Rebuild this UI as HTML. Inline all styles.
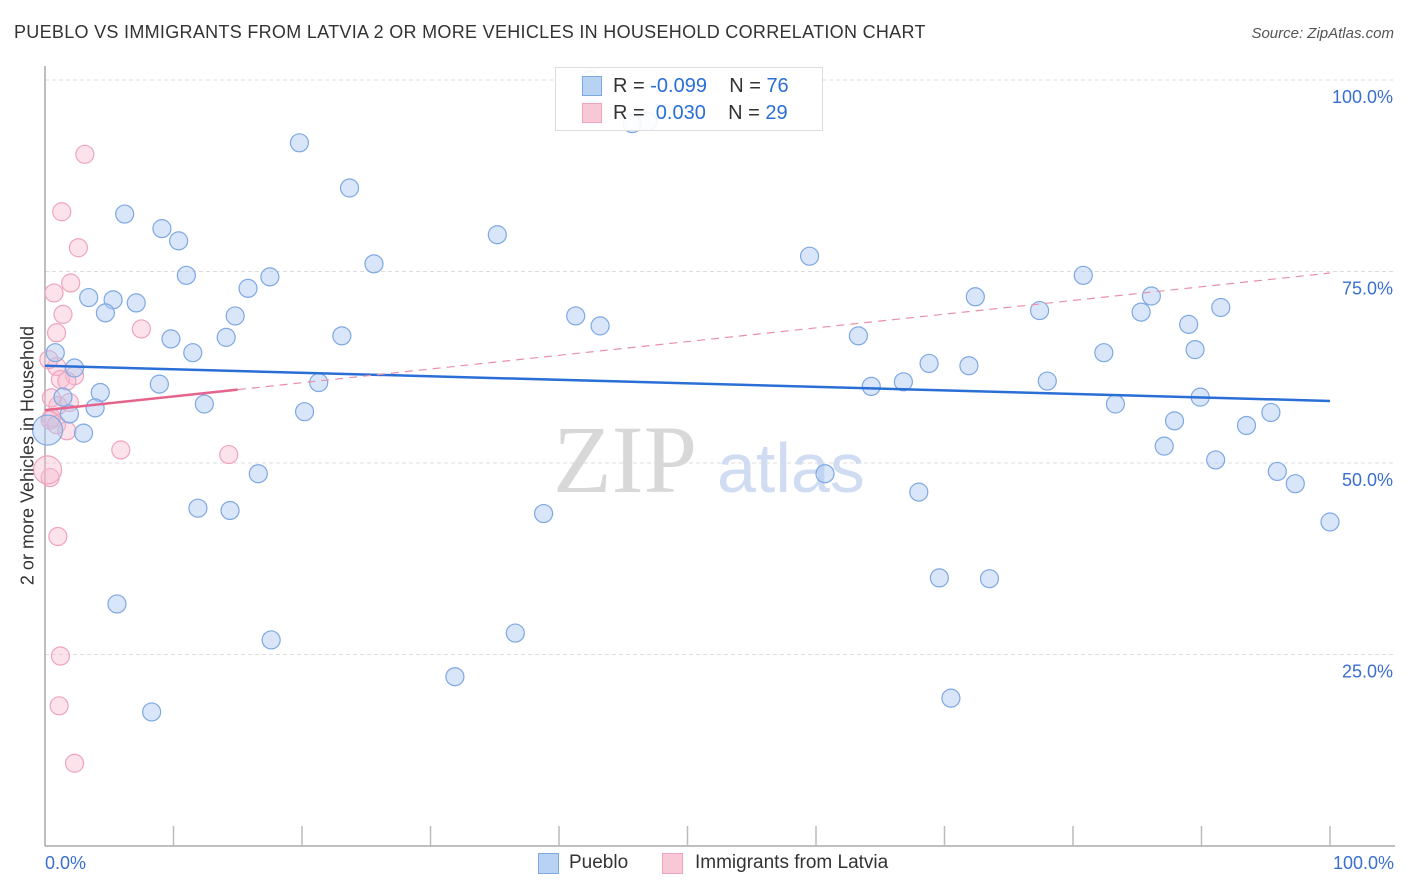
<!DOCTYPE html>
<html><head><meta charset="utf-8">
<style>
body{margin:0;background:#fff;font-family:"Liberation Sans",sans-serif;}
#wrap{position:relative;width:1406px;height:892px;overflow:hidden;}
.t{position:absolute;white-space:nowrap;}
</style></head>
<body>
<div id="wrap">
<div class="t" style="left:14px;top:22px;font-size:18px;letter-spacing:0.3px;color:#333;">PUEBLO VS IMMIGRANTS FROM LATVIA 2 OR MORE VEHICLES IN HOUSEHOLD CORRELATION CHART</div>
<div class="t" style="right:12px;top:25px;font-size:15px;color:#555;font-style:italic;">Source: ZipAtlas.com</div>
<svg id="svg" width="1406" height="892" style="position:absolute;left:0;top:0"></svg>
</div>
<script>
const blueX=[19.8,23.7,6.2,9.1,10.4,35.2,25.6,59.5,11.0,17.5,80.8,15.8,3.4,5.3,7.1,4.7,14.8,41.3,43.2,72.4,77.4,86.1,91.5,85.3,89.0,9.8,14.1,23.1,63.3,11.5,0.8,82.4,89.5,2.3,68.8,71.9,8.9,21.3,64.3,66.8,78.0,4.3,1.4,89.9,12.4,3.9,1.9,20.2,83.3,87.9,3.0,93.5,95.4,87.1,91.1,16.6,60.7,95.9,97.3,68.0,11.9,14.4,38.8,100,69.6,73.5,5.6,36.6,17.6,31.9,8.3,70.5,45.7,46.9,42.4];
const blueY=[91.8,85.9,82.5,80.6,79.0,79.8,76.0,77.0,74.5,74.3,74.5,72.8,71.6,71.3,70.9,69.6,69.2,69.2,67.9,71.7,69.9,71.8,70.3,69.7,68.1,66.2,66.4,66.6,66.6,64.4,64.4,64.4,64.8,62.4,63.0,62.7,60.3,60.5,60.0,60.6,60.7,59.2,58.6,58.6,57.7,57.2,56.4,56.7,57.7,55.5,53.9,54.9,56.6,52.2,50.4,48.6,48.6,48.9,47.3,46.2,44.1,43.8,43.4,42.3,35.0,34.9,31.6,27.8,26.9,22.1,17.5,19.3,94.3,94.6,100];
const pinkX=[3.1,1.3,2.6,2.0,0.7,1.4,7.5,0.9,0.9,2.3,1.2,1.7,1.0,1.9,0.5,0.4,0.9,1.7,5.9,14.3,0.4,1.0,1.2,1.1,2.3,0.3,0.5];
const pinkY=[90.3,82.8,78.1,73.5,72.2,69.4,67.5,67.0,62.6,61.4,60.9,60.7,57.5,57.9,55.9,55.6,55.0,54.2,51.7,51.1,48.1,40.4,24.8,18.3,10.8,63.5,58.5];
const bigBlue=[0.2,54.3];
const bigPink=[0.2,49.1];
const blueTrend=[62.7,58.1];
const pinkTrend=[56.9,74.8];
const pinkSolidEnd=15;
const yTicks=[100,75,50,25];
const yTickLabels=["100.0%","75.0%","50.0%","25.0%"];

const NS="http://www.w3.org/2000/svg";
const svg=document.getElementById('svg');
const X0=45,X1=1330,Y0=846,Y1=80;
const sx=v=>X0+(X1-X0)*v/100;
const sy=v=>Y0-(Y0-Y1)*v/100;
function mk(tag,attrs){const e=document.createElementNS(NS,tag);for(const k in attrs)e.setAttribute(k,attrs[k]);svg.appendChild(e);return e;}

yTicks.forEach((t,i)=>{
  const g=mk('line',{x1:X0,x2:1395,y1:sy(t),y2:sy(t),stroke:'#ddd','stroke-dasharray':'4,3','stroke-width':1});
  
  
  const tx=mk('text',{x:1393,y:sy(t)+23,'text-anchor':'end','font-size':18,fill:'#3a6fcf','font-family':'Liberation Sans, sans-serif'});
  tx.textContent=yTickLabels[i];
  
  
});
const w1=mk('text',{x:553,y:492,'font-size':96,fill:'#d8d8d8','font-family':'Liberation Serif, serif'});w1.textContent='ZIP';


const w2=mk('text',{x:717,y:492,'font-size':70,fill:'#cfdcf2','font-family':'Liberation Sans, sans-serif'});w2.textContent='atlas';


const ax=mk('line',{x1:X0,x2:X0,y1:66,y2:846,stroke:'#aaa','stroke-width':1.5});


const axx=mk('line',{x1:X0,x2:1395,y1:846,y2:846,stroke:'#aaa','stroke-width':1.5});


for(let i=1;i<=10;i++){const tk=mk('line',{x1:sx(i*10),x2:sx(i*10),y1:826,y2:846,stroke:'#bbb','stroke-width':1.5});

}
function dot(x,y,r,blue){
  const c=mk('circle',{cx:sx(x),cy:sy(y),r:r,fill:blue?'rgba(170,200,242,0.45)':'rgba(248,185,205,0.4)',stroke:blue?'#7ea8e2':'#eea4bc','stroke-width':1.2});
  
  
}
pinkX.forEach((x,i)=>dot(x,pinkY[i],9,false));
dot(bigPink[0],bigPink[1],14,false);
blueX.forEach((x,i)=>dot(x,blueY[i],9,true));
dot(bigBlue[0],bigBlue[1],15,true);
const bt=mk('line',{x1:sx(0),y1:sy(blueTrend[0]),x2:sx(100),y2:sy(blueTrend[1]),stroke:'#2a6fd6','stroke-width':2.5});


const pAt=x=>pinkTrend[0]+(pinkTrend[1]-pinkTrend[0])*x/100;
const pd=mk('line',{x1:sx(pinkSolidEnd),y1:sy(pAt(pinkSolidEnd)),x2:sx(100),y2:sy(pinkTrend[1]),stroke:'#e890aa','stroke-width':1.2,'stroke-dasharray':'8,6'});


const ps=mk('line',{x1:sx(0),y1:sy(pinkTrend[0]),x2:sx(pinkSolidEnd),y2:sy(pAt(pinkSolidEnd)),stroke:'#e4648c','stroke-width':2.5});


</script>
<div class="t" style="left:-112px;top:445px;font-size:18px;color:#333;transform:rotate(-90deg);width:280px;text-align:center;">2 or more Vehicles in Household</div>
<div class="t" style="left:45px;top:853px;font-size:18px;color:#3a6fcf;">0.0%</div>
<div class="t" style="right:12px;top:853px;font-size:18px;color:#3a6fcf;">100.0%</div>
<div style="position:absolute;left:555px;top:67px;width:266px;height:62px;border:1px solid #ddd;background:rgba(255,255,255,0.9);font-size:20px;">
  <div style="position:absolute;left:26px;top:8px;width:18px;height:18px;background:#b8d2f4;border:1px solid #7ea8e2;"></div>
  <div class="t" style="left:57px;top:7px;color:#333;">R = <span style="color:#2a6fd6">-0.099</span>&nbsp;&nbsp;&nbsp; N = <span style="color:#2a6fd6">76</span></div>
  <div style="position:absolute;left:26px;top:35px;width:18px;height:18px;background:#f9c8d6;border:1px solid #eea4bc;"></div>
  <div class="t" style="left:57px;top:34px;color:#333;">R = &nbsp;<span style="color:#2a6fd6">0.030</span>&nbsp;&nbsp;&nbsp; N = <span style="color:#2a6fd6">29</span></div>
</div>
<div style="position:absolute;left:538px;top:853px;">
  <div style="position:absolute;left:0;top:0;width:19px;height:19px;background:#b8d2f4;border:1px solid #7ea8e2;"></div>
  <div class="t" style="left:31px;top:-1px;font-size:19px;color:#333;">Pueblo</div>
</div>
<div style="position:absolute;left:662px;top:853px;">
  <div style="position:absolute;left:0;top:0;width:19px;height:19px;background:#f9c8d6;border:1px solid #eea4bc;"></div>
  <div class="t" style="left:33px;top:-1px;font-size:19px;color:#333;">Immigrants from Latvia</div>
</div>
</body></html>
